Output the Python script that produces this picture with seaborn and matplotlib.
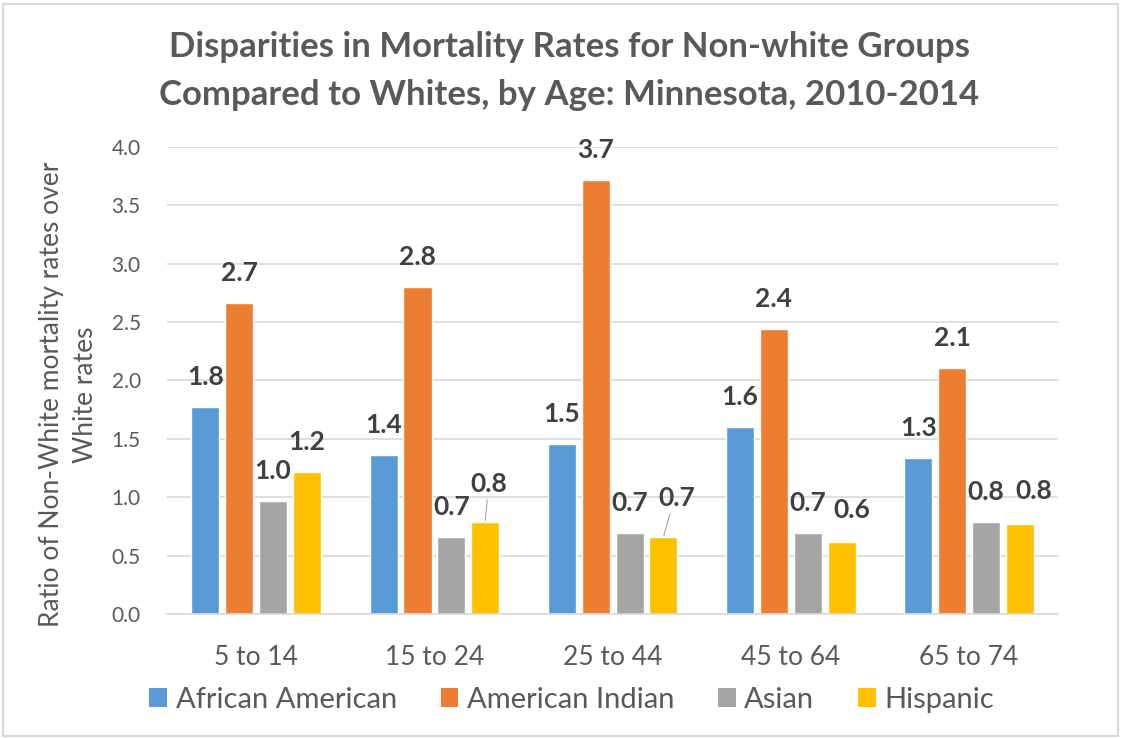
import matplotlib
matplotlib.use("Agg")
import matplotlib.pyplot as plt
import seaborn as sns
import pandas as pd
from matplotlib.patches import Rectangle, Patch

# ---- data ----
age_groups = ["5 to 14", "15 to 24", "25 to 44", "45 to 64", "65 to 74"]
series_names = ["African American", "American Indian", "Asian", "Hispanic"]
african_american = [1.77, 1.36, 1.46, 1.60, 1.34]
american_indian = [2.66, 2.80, 3.72, 2.44, 2.11]
asian = [0.97, 0.66, 0.69, 0.69, 0.79]
hispanic = [1.22, 0.79, 0.66, 0.62, 0.77]
y_ticks = [0.0, 0.5, 1.0, 1.5, 2.0, 2.5, 3.0, 3.5, 4.0]

title = "Disparities in Mortality Rates for Non-white Groups\nCompared to Whites, by Age: Minnesota, 2010-2014"
y_label = "Ratio of Non-White mortality rates over\nWhite rates"

colors = ["#5B9BD5", "#ED7D31", "#A5A5A5", "#FFC000"]

rows = []
for name, vals in zip(series_names, [african_american, american_indian, asian, hispanic]):
    for g, v in zip(age_groups, vals):
        rows.append({"Age": g, "Group": name, "Ratio": v})
df = pd.DataFrame(rows)

sns.set_theme(style="white")
plt.rcParams["font.family"] = ["Lato", "DejaVu Sans"]

fig = plt.figure(figsize=(11.21, 7.38), dpi=100)
ax = fig.add_axes([0.149, 0.168, 0.795, 0.633])

sns.barplot(data=df, x="Age", y="Ratio", hue="Group", order=age_groups,
            hue_order=series_names, palette=colors, width=0.76, gap=0.17,
            saturation=1, ax=ax, legend=False, errorbar=None)

ax.set_ylim(0, 4.0)
ax.set_xlim(-0.5, 4.5)
ax.set_yticks(y_ticks)
ax.set_yticklabels([f"{t:.1f}" for t in y_ticks], color="#595959", fontsize=15)
ax.tick_params(axis="x", colors="#595959", labelsize=19, length=0, pad=22)
ax.tick_params(axis="y", length=0, pad=19)
ax.set_xlabel("")
ax.set_ylabel(y_label, fontsize=19, color="#595959", linespacing=1.45)
ax.yaxis.set_label_coords(-0.078, 0.47)
ax.grid(axis="y", color="#D9D9D9", linewidth=1.2)
ax.set_axisbelow(True)
for s in ["top", "right", "left"]:
    ax.spines[s].set_visible(False)
ax.spines["bottom"].set_color("#D9D9D9")
ax.spines["bottom"].set_linewidth(1.2)

# data labels (offsets in pixels: dx, dy from bar top center)
special = {(3, 1): (4, 38, True), (3, 2): (13, 39, True),
           (3, 3): (10, 32, False), (3, 4): (14, 33, False)}
px = 72.0 / 100.0
for si, cont in enumerate(ax.containers):
    for gi, bar in enumerate(cont):
        h = bar.get_height()
        xc = bar.get_x() + bar.get_width() / 2
        dx, dy, line = special.get((si, gi), (0, 30, False))
        ax.annotate(f"{h:.1f}", (xc, h), xytext=(dx * px, dy * px),
                    textcoords="offset points", ha="center", va="center",
                    fontsize=19, fontweight="bold", color="#404040")
        if line:
            ax.annotate("", (xc, h), xytext=(dx * px * 0.5, (dy - 16) * px),
                        textcoords="offset points",
                        arrowprops=dict(arrowstyle="-", color="#A5A5A5", lw=0.8,
                                        shrinkA=0, shrinkB=1))

fig.suptitle(title, x=0.508, y=0.958, fontsize=25, fontweight="bold",
             color="#595959", linespacing=1.6)

handles = [Patch(facecolor=c, edgecolor="none") for c in colors]
fig.legend(handles, series_names, loc="center", bbox_to_anchor=(0.51, 0.052),
           ncol=4, frameon=False, fontsize=21, handlelength=0.6, handleheight=0.6,
           handletextpad=0.3, columnspacing=1.5, labelcolor="#595959")

fig.patches.append(Rectangle((0.003, 0.003), 0.994, 0.992, transform=fig.transFigure,
                             fill=False, edgecolor="#D9D9D9", linewidth=1.5))

fig.savefig("out.png", dpi=100, facecolor="white")
